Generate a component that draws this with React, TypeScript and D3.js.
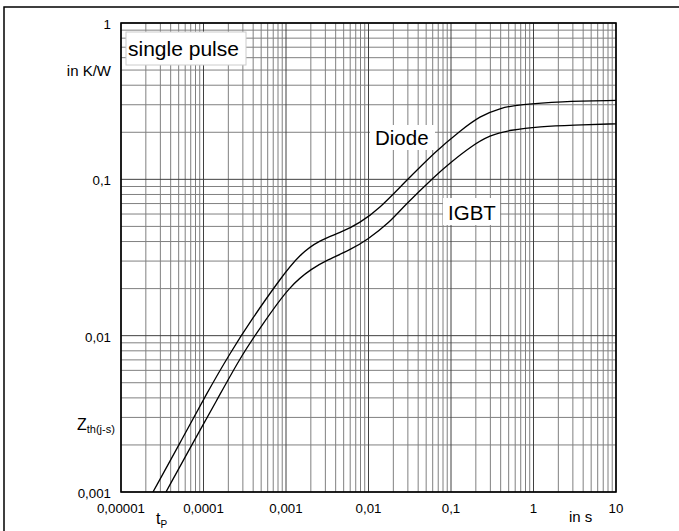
import React from 'react';
import * as d3 from 'd3';

// axis ticks
const xTicks = [1e-5, 1e-4, 1e-3, 1e-2, 1e-1, 1, 10];
const xTickLabels = ['0,00001', '0,0001', '0,001', '0,01', '0,1', '1', '10'];
const yTicks = [0.001, 0.01, 0.1, 1];
const yTickLabels = ['0,001', '0,01', '0,1', '1'];

// Zth(j-s) curves
const diodeT = [2.44e-5, 5.19e-5, 1.1e-4, 2.1e-4, 3.87e-4, 8.46e-4, 1.478e-3, 2.58e-3, 4.51e-3, 7.89e-3, 0.01378, 0.0262, 0.0677, 0.1285, 0.2246, 0.3926, 0.686, 2.096, 10];
const diodeZ = [0.001, 0.002057, 0.0043, 0.00775, 0.01279, 0.02304, 0.0333, 0.0409, 0.0454, 0.0526, 0.0656, 0.0934, 0.154, 0.2038, 0.2542, 0.2859, 0.3012, 0.3148, 0.3195];
const igbtT = [3.51e-5, 6.86e-5, 1.458e-4, 2.77e-4, 4.84e-4, 1.118e-3, 2.125e-3, 2.97e-3, 5.97e-3, 9.59e-3, 0.01823, 0.0262, 0.0677, 0.0973, 0.17, 0.297, 0.519, 1.199, 3.01, 10];
const igbtZ = [0.001, 0.001912, 0.00388, 0.0072, 0.0112, 0.0211, 0.0271, 0.03, 0.0353, 0.0409, 0.0533, 0.0665, 0.1082, 0.1272, 0.161, 0.1922, 0.2068, 0.2178, 0.2226, 0.2265];

const FONT = '"Liberation Sans", Arial, sans-serif';

const App = () => {
  const left = 121, right = 616, top = 23, bottom = 492;
  const x = d3.scaleLog().domain([1e-5, 10]).range([left, right]);
  const y = d3.scaleLog().domain([0.001, 1]).range([bottom, top]);

  const xGrid = x.ticks();
  const yGrid = y.ticks();
  const isDecade = (v: number) => Math.abs(Math.log10(v) - Math.round(Math.log10(v))) < 1e-6;

  const line = d3.line<[number, number]>()
    .x(d => x(d[0]))
    .y(d => y(d[1]))
    .curve(d3.curveBasis);

  const diode = line(diodeT.map((t, i) => [t, diodeZ[i]]))!;
  const igbt = line(igbtT.map((t, i) => [t, igbtZ[i]]))!;

  return (
    <svg width={679} height={531} style={{ position: 'absolute', left: 0, top: 0, display: 'block', background: '#fff' }} fontFamily={FONT}>
      <defs>
        <clipPath id="plot">
          <rect x={left} y={top} width={right - left} height={bottom - top} />
        </clipPath>
      </defs>

      {/* outer frame */}
      <path d="M4,531 V7 H679" fill="none" stroke="#000" strokeWidth={1.5} />

      {/* grid */}
      {xGrid.filter(v => !isDecade(v)).map((v, i) => (
        <line key={'xg' + i} x1={x(v)} x2={x(v)} y1={top} y2={bottom} stroke="#808080" strokeWidth={1} />
      ))}
      {yGrid.filter(v => !isDecade(v)).map((v, i) => (
        <line key={'yg' + i} y1={y(v)} y2={y(v)} x1={left} x2={right} stroke="#808080" strokeWidth={1} />
      ))}
      {xGrid.filter(isDecade).map((v, i) => (
        <line key={'xd' + i} x1={x(v)} x2={x(v)} y1={top} y2={bottom} stroke="#404040" strokeWidth={1} />
      ))}
      {yGrid.filter(isDecade).map((v, i) => (
        <line key={'yd' + i} y1={y(v)} y2={y(v)} x1={left} x2={right} stroke="#404040" strokeWidth={1} />
      ))}

      {/* label boxes */}
      <rect x={126} y={32} width={120} height={33} fill="#fff" stroke="#ccc" strokeWidth={1} />
      <text x={128} y={56} fontSize={21}>single pulse</text>
      <rect x={370} y={125} width={65} height={25} fill="#fff" />
      <text x={375} y={144.5} fontSize={20.5}>Diode</text>
      <rect x={443} y={198} width={57} height={27} fill="#fff" />
      <text x={448} y={220} fontSize={20.5}>IGBT</text>

      {/* curves */}
      <g clipPath="url(#plot)" fill="none" stroke="#000" strokeWidth={1.3}>
        <path d={diode} />
        <path d={igbt} />
      </g>

      <rect x={left} y={top} width={right - left} height={bottom - top} fill="none" stroke="#000" strokeWidth={1.6} />

      {/* tick labels */}
      {yTicks.map((v, i) => (
        <text key={'yt' + i} x={111} y={y(v) + 6} textAnchor="end" fontSize={13.3}>{yTickLabels[i]}</text>
      ))}
      {xTicks.map((v, i) => (
        <text key={'xt' + i} x={x(v)} y={513} textAnchor="middle" fontSize={13.3}>{xTickLabels[i]}</text>
      ))}

      {/* axis titles */}
      <text x={111} y={76} textAnchor="end" fontSize={15}>in K/W</text>
      <text x={77} y={430} fontSize={16}>Z<tspan fontSize={11} dy={3}>th(j-s)</tspan></text>
      <text x={156} y={524} fontSize={16}>t<tspan fontSize={10} dy={4}>P</tspan></text>
      <text x={569} y={522} fontSize={15}>in s</text>
    </svg>
  );
};

export default App;
